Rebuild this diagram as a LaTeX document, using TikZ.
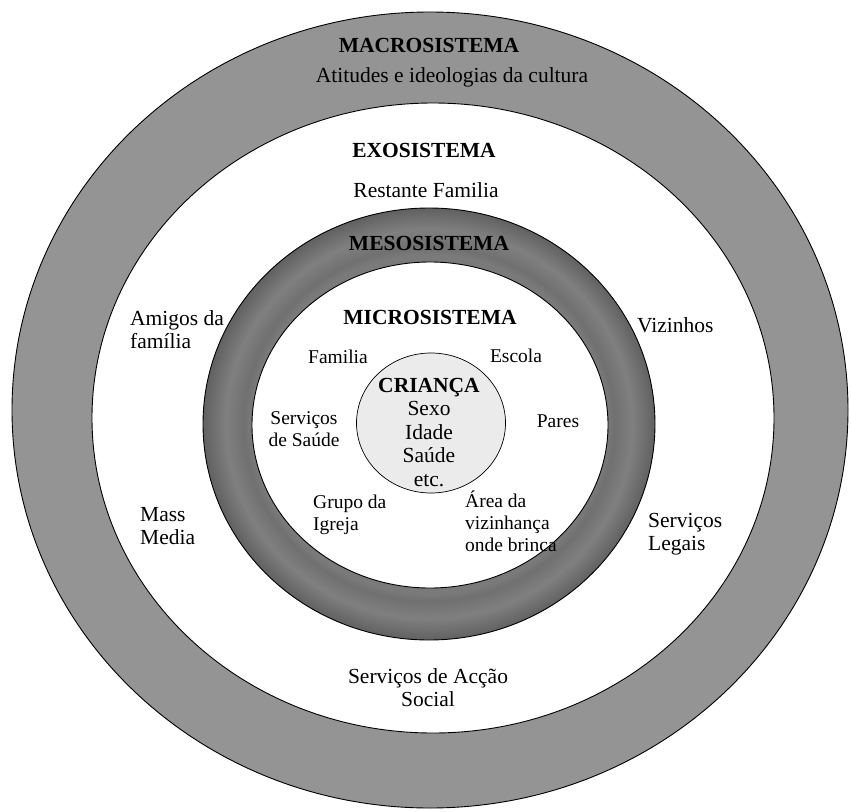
\documentclass[tikz,border=0pt]{standalone}
\usepackage{fontspec}
\setmainfont{Liberation Serif}
\newcommand{\stkl}[1]{\begin{tabular}[t]{@{}l@{}}#1\end{tabular}}
\newcommand{\stkc}[1]{\begin{tabular}[t]{@{}c@{}}#1\end{tabular}}
\pgfdeclareradialshading{mesoshade}{\pgfpoint{0bp}{0bp}}{color(0bp)=(black!52); color(19.6bp)=(black!52); color(20.5bp)=(black!56); color(22.5bp)=(black!50); color(25bp)=(black!62); color(50bp)=(black!62)}
\tikzset{
  ring/.style={draw=black, line width=0.9pt},
  big/.style={font=\fontsize{21.5}{23}\selectfont, inner sep=0pt},
  title/.style={font=\fontsize{21.5}{23}\selectfont\bfseries, inner sep=0pt},
  small/.style={font=\fontsize{19.5}{22}\selectfont, inner sep=0pt},
  child/.style={font=\fontsize{21.5}{23.5}\selectfont, inner sep=0pt}
}
\begin{document}
\begin{tikzpicture}[x=1pt, y=-1pt]
\useasboundingbox (0,0) rectangle (851,811);
\fill[white] (0,0) rectangle (851,811);
% rings
\draw[ring, fill=black!42] (430,410) ellipse [x radius=418, y radius=398];
\draw[ring, fill=white] (433,418) ellipse [x radius=341, y radius=315];
\shade[shading=mesoshade] (429,424) ellipse [x radius=226, y radius=216];
\draw[ring] (429,424) ellipse [x radius=226, y radius=216];
\draw[ring, fill=white] (430,425) ellipse [x radius=178, y radius=163];
\draw[ring, line width=0.7pt, fill=black!8] (431,423) ellipse [x radius=74.5, y radius=70];
% macro
\node[title, anchor=base] (macro) at (429,52) {MACROSISTEMA};
\node[big, anchor=base] (atit) at (452,82) {Atitudes e ideologias da cultura};
% exo
\node[title, anchor=base] (exo) at (424,157) {EXOSISTEMA};
\node[big, anchor=base] (rest) at (426,197) {Restante Familia};
\node[big, anchor=base west] (amigos) at (130,325) {\stkl{Amigos da\\família}};
\node[big, anchor=base west] (mass) at (140,521) {\stkl{Mass\\Media}};
\node[big, anchor=base west] (viz) at (637,332) {Vizinhos};
\node[big, anchor=base west] (legais) at (648,527) {\stkl{Serviços\\Legais}};
\node[big, anchor=base] (accao) at (428,683) {\stkc{Serviços de Acção\\Social}};
% meso
\node[title, anchor=base] (meso) at (429,250) {MESOSISTEMA};
% micro
\node[title, anchor=base] (micro) at (430,324) {MICROSISTEMA};
\node[small, anchor=base] (familia) at (338,363) {Familia};
\node[small, anchor=base] (escola) at (516,362) {Escola};
\node[small, anchor=base] (saude) at (304,424) {\stkc{Serviços\\de Saúde}};
\node[small, anchor=base] (pares) at (558,427) {Pares};
\node[small, anchor=base west] (igreja) at (313,508) {\stkl{Grupo da\\Igreja}};
\node[small, anchor=base west] (area) at (465,507) {\stkl{Área da\\vizinhança\\onde brinca}};
% child
\node[child, anchor=base] (crianca) at (429,392) {\stkc{\textbf{CRIANÇA}\\Sexo\\Idade\\Saúde\\etc.}};
\end{tikzpicture}
\end{document}
